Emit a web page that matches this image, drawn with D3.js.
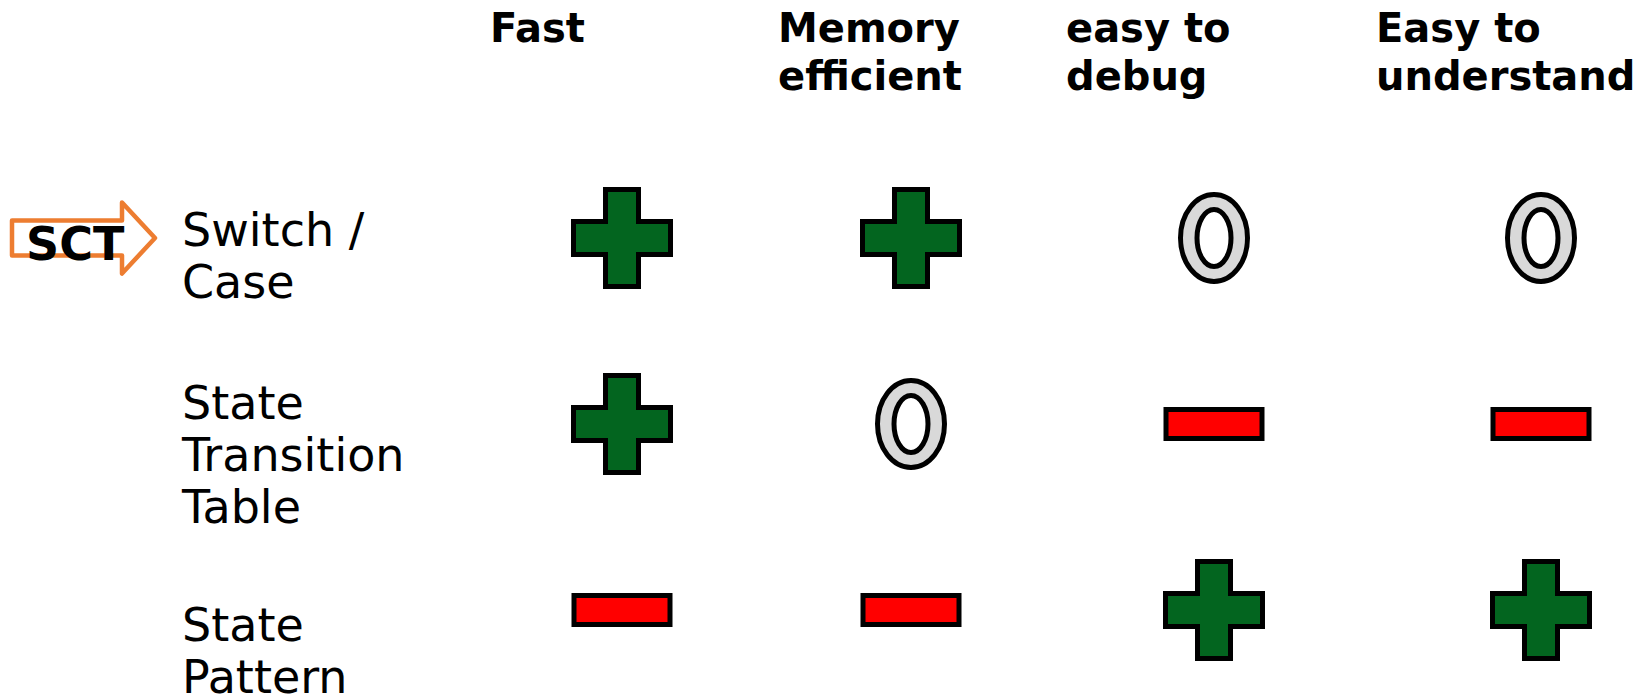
<!DOCTYPE html>
<html>
<head>
<meta charset="utf-8">
<script src="https://cdn.jsdelivr.net/npm/d3@7"></script>
<style>
  html, body { margin: 0; padding: 0; background: #fff; overflow: hidden; }
  svg { display: block; }
</style>
</head>
<body>
<svg id="chart" width="1645" height="700"></svg>
<script>
// ---- data ----
const criteria = ["Fast", "Memory efficient", "easy to debug", "Easy to understand"];
const criteriaLines = [["Fast"], ["Memory", "efficient"], ["easy to", "debug"], ["Easy to", "understand"]];
const approaches = ["Switch / Case", "State Transition Table", "State Pattern"];
const approachLines = [["Switch /", "Case"], ["State", "Transition", "Table"], ["State", "Pattern"]];
// ratings: "+" good, "o" neutral, "-" bad ; one array per approach, in criteria order
const switchCase = ["+", "+", "o", "o"];
const stateTable = ["+", "o", "-", "-"];
const statePattern = ["-", "-", "+", "+"];
const ratings = [switchCase, stateTable, statePattern];
const highlightLabel = "SCT";
const highlightRow = "Switch / Case";

// ---- layout ----
const svg = d3.select("#chart");

// column centres for symbols
const xCol = d3.scaleOrdinal().domain(criteria).range([622, 911, 1214, 1541]);
// left edge of header text
const xHead = d3.scaleOrdinal().domain(criteria).range([490, 778, 1066, 1376]);
// row centres for symbols
const yRow = d3.scalePoint().domain(approaches).range([238, 610]);
// first baseline of each row label
const yLabel = d3.scaleOrdinal().domain(approaches).range([246, 419, 641]);

const headSize = 40, headLine = 48;
const labelSize = 46, labelLine = 52;

// ---- headers ----
const heads = svg.append("g").attr("class", "headers");
criteria.forEach((c, i) => {
  const t = heads.append("text")
    .attr("x", xHead(c)).attr("y", 42)
    .attr("font-family", "DejaVu Sans").attr("font-weight", "bold")
    .attr("font-size", headSize).attr("fill", "#000");
  criteriaLines[i].forEach((ln, j) => {
    t.append("tspan").attr("x", xHead(c)).attr("y", 42 + j * headLine).text(ln);
  });
});

// ---- row labels ----
const labels = svg.append("g").attr("class", "rowlabels");
approaches.forEach((a, i) => {
  const t = labels.append("text")
    .attr("x", 182).attr("y", yLabel(a))
    .attr("font-family", "DejaVu Sans")
    .attr("font-size", labelSize).attr("fill", "#000");
  approachLines[i].forEach((ln, j) => {
    t.append("tspan").attr("x", 182).attr("y", yLabel(a) + j * labelLine).text(ln);
  });
});

// ---- highlight arrow (SCT) ----
const ay = 238; // arrow centre line
const arrow = svg.append("g").attr("class", "arrow");
const bodyH = 17.5, headH = 35.5, x0 = 12, xn = 122, xt = 155;
arrow.append("path")
  .attr("d", d3.line()([
    [x0, ay - bodyH], [xn, ay - bodyH], [xn, ay - headH], [xt, ay],
    [xn, ay + headH], [xn, ay + bodyH], [x0, ay + bodyH]
  ]) + "Z")
  .attr("fill", "#fff").attr("stroke", "#ed7d31")
  .attr("stroke-width", 4.5).attr("stroke-linejoin", "round");
arrow.append("text")
  .attr("x", 26).attr("y", ay + 22)
  .attr("font-family", "DejaVu Sans").attr("font-weight", "bold")
  .attr("font-size", 46).attr("fill", "#000")
  .text(highlightLabel);

// ---- symbols ----
const cells = [];
approaches.forEach((a, i) => criteria.forEach((c, j) => cells.push({ a, c, r: ratings[i][j] })));

const sym = svg.append("g").attr("class", "symbols");
const S = 48.5, A = 16.5; // plus half-size and half arm
const plusPath = d3.line()([
  [-A, -S], [A, -S], [A, -A], [S, -A], [S, A], [A, A], [A, S],
  [-A, S], [-A, A], [-S, A], [-S, -A], [-A, -A]
]) + "Z";

const g = sym.selectAll("g.cell").data(cells).join("g")
  .attr("class", "cell")
  .attr("transform", d => `translate(${xCol(d.c)},${yRow(d.a)})`);

g.filter(d => d.r === "+").append("path")
  .attr("d", plusPath)
  .attr("fill", "#03651f").attr("stroke", "#000").attr("stroke-width", 5);

g.filter(d => d.r === "-").append("rect")
  .attr("x", -48).attr("y", -14.5).attr("width", 96).attr("height", 29)
  .attr("fill", "#ff0000").attr("stroke", "#000").attr("stroke-width", 5);

const o = g.filter(d => d.r === "o");
o.append("ellipse").attr("rx", 33.5).attr("ry", 43.5)
  .attr("fill", "#d9d9d9").attr("stroke", "#000").attr("stroke-width", 5);
o.append("ellipse").attr("rx", 17).attr("ry", 28.5)
  .attr("fill", "#fff").attr("stroke", "#000").attr("stroke-width", 5);
</script>
</body>
</html>
